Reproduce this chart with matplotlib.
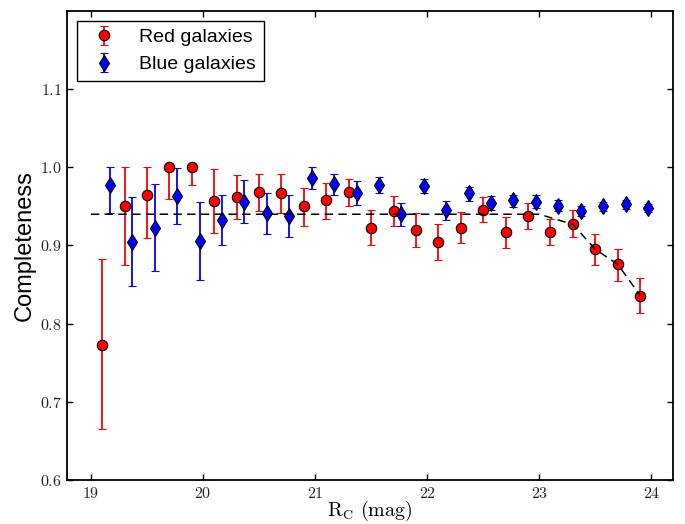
import matplotlib
matplotlib.use("Agg")
import matplotlib.pyplot as plt
from matplotlib.ticker import FixedLocator, FormatStrFormatter

plt.rcParams['mathtext.fontset'] = 'cm'
plt.rcParams['font.family'] = ['Liberation Sans', 'DejaVu Sans']

# Red galaxies
red_x = [19.1, 19.3, 19.5, 19.7, 19.9, 20.1, 20.3, 20.5, 20.7, 20.9, 21.1, 21.3,
         21.5, 21.7, 21.9, 22.1, 22.3, 22.5, 22.7, 22.9, 23.1, 23.3, 23.5, 23.7, 23.9]
red_y = [0.773, 0.950, 0.964, 1.000, 1.000, 0.957, 0.962, 0.968, 0.967, 0.950, 0.958, 0.968,
         0.923, 0.944, 0.920, 0.904, 0.923, 0.946, 0.917, 0.938, 0.917, 0.927, 0.895, 0.876, 0.836]
red_lo = [0.108, 0.075, 0.055, 0.040, 0.023, 0.041, 0.028, 0.024, 0.025, 0.025, 0.024, 0.017,
          0.022, 0.019, 0.022, 0.023, 0.020, 0.016, 0.020, 0.017, 0.017, 0.016, 0.020, 0.021, 0.023]
red_hi = [0.110, 0.050, 0.036, 0.000, 0.000, 0.041, 0.028, 0.024, 0.025, 0.024, 0.022, 0.017,
          0.022, 0.019, 0.021, 0.023, 0.020, 0.016, 0.020, 0.017, 0.017, 0.018, 0.020, 0.020, 0.023]

# Blue galaxies
blue_x = [19.17, 19.37, 19.57, 19.77, 19.97, 20.17, 20.37, 20.57, 20.77, 20.97, 21.17, 21.37,
          21.57, 21.77, 21.97, 22.17, 22.37, 22.57, 22.77, 22.97, 23.17, 23.37, 23.57, 23.77, 23.97]
blue_y = [0.978, 0.905, 0.923, 0.963, 0.906, 0.933, 0.956, 0.941, 0.938, 0.986, 0.979, 0.967,
          0.978, 0.940, 0.976, 0.946, 0.967, 0.954, 0.958, 0.956, 0.951, 0.944, 0.950, 0.953, 0.948]
blue_lo = [0.036, 0.057, 0.056, 0.036, 0.050, 0.032, 0.027, 0.026, 0.027, 0.014, 0.015, 0.015,
           0.011, 0.015, 0.009, 0.013, 0.010, 0.009, 0.009, 0.008, 0.007, 0.006, 0.006, 0.006, 0.005]
blue_hi = [0.022, 0.057, 0.056, 0.036, 0.050, 0.032, 0.028, 0.026, 0.027, 0.014, 0.013, 0.015,
           0.010, 0.015, 0.009, 0.011, 0.008, 0.009, 0.007, 0.008, 0.007, 0.007, 0.006, 0.005, 0.005]

# Model (dashed) curve
model_x = [19.0, 23.0, 23.3, 23.5, 23.7, 23.9]
model_y = [0.94, 0.94, 0.927, 0.895, 0.876, 0.836]

x_ticks = [19, 20, 21, 22, 23, 24]
y_ticks = [0.6, 0.7, 0.8, 0.9, 1.0, 1.1]

fig = plt.figure(figsize=(6.85, 5.24), dpi=100)
ax = fig.add_axes([0.0983, 0.0840, 0.8837, 0.8950])

ax.errorbar(red_x, red_y, yerr=[red_lo, red_hi], fmt='o', color='red', ecolor='red',
            mfc='red', mec='black', mew=0.8, ms=7.5, elinewidth=1.3, capsize=3.2, capthick=1.3,
            label='Red galaxies', zorder=3)
ax.errorbar(blue_x, blue_y, yerr=[blue_lo, blue_hi], fmt='d', color='blue', ecolor='blue',
            mfc='blue', mec='black', mew=0.8, ms=8, elinewidth=1.3, capsize=3.2, capthick=1.3,
            label='Blue galaxies', zorder=3)
ax.plot(model_x, model_y, color='black', lw=1.1, dashes=(5.5, 3.5), zorder=4)

ax.set_xlim(18.79, 24.19)
ax.set_ylim(0.6, 1.2)
ax.xaxis.set_major_locator(FixedLocator(x_ticks))
ax.yaxis.set_major_locator(FixedLocator(y_ticks))
ax.xaxis.set_major_formatter(FormatStrFormatter(r'$%d$'))
ax.yaxis.set_major_formatter(FormatStrFormatter(r'$%.1f$'))
ax.tick_params(direction='in', length=4, width=1.0, top=True, right=True,
               labelsize=11.5, labelcolor='#222222', pad=4)
for s in ax.spines.values():
    s.set_linewidth(1.3)

ax.set_xlabel(r'$\mathrm{R_C\ (mag)}$', fontsize=14.5, labelpad=-1)
ax.set_ylabel('Completeness', fontsize=17, labelpad=3)

leg = ax.legend(loc='upper left', fontsize=14, fancybox=False, framealpha=1,
                edgecolor='black', numpoints=1)
leg.get_frame().set_linewidth(1.0)

fig.savefig('out.png', dpi=100)
